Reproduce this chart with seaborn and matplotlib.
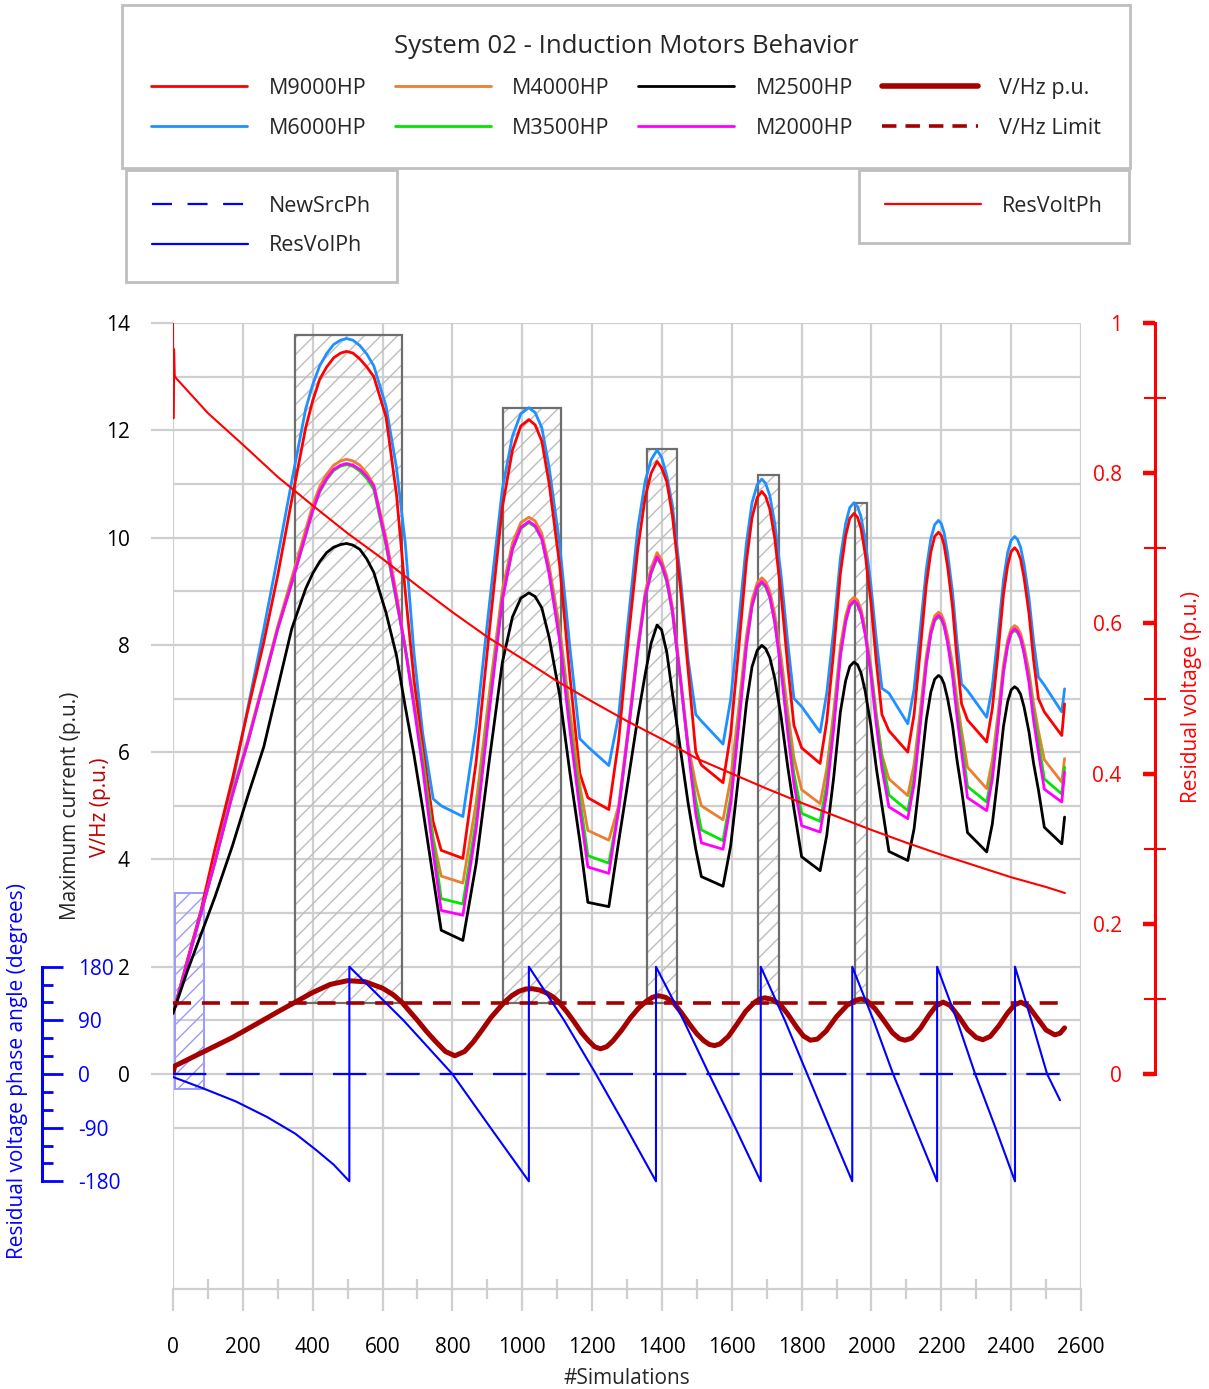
import matplotlib
matplotlib.use("Agg")
import matplotlib.pyplot as plt
from matplotlib.lines import Line2D
import pandas as pd
import seaborn as sns

# ---------------- data ----------------
sim_x = [0, 40, 80, 120, 170, 215, 260, 300, 340, 380, 400, 420, 440, 460, 480, 497, 515, 535, 555, 575,
         610, 640, 665, 690, 715, 745, 768, 830,
         868, 906, 943, 972, 996, 1019, 1037, 1056, 1077, 1107, 1136, 1165, 1188, 1248,
         1276, 1303, 1331, 1352, 1369, 1386, 1399, 1414, 1430, 1453, 1475, 1497, 1513, 1575,
         1597, 1619, 1642, 1658, 1673, 1686, 1697, 1709, 1723, 1741, 1760, 1778, 1800, 1853,
         1872, 1892, 1911, 1926, 1938, 1950, 1960, 1970, 1982, 1998, 2014, 2030, 2050, 2104,
         2122, 2139, 2157, 2170, 2181, 2192, 2200, 2208, 2218, 2232, 2245, 2258, 2275, 2330,
         2346, 2362, 2378, 2390, 2400, 2410, 2418, 2427, 2437, 2451, 2464, 2478, 2495, 2545, 2553]

m6000 = [1.13, 2.05, 3.0, 3.95, 5.4, 6.85, 8.3, 9.65, 11.05, 12.4, 12.85, 13.2, 13.43, 13.6, 13.68, 13.71, 13.68, 13.58, 13.42, 13.2,
         12.45, 11.3, 9.9, 7.85, 6.35, 5.13, 5.0, 4.8,
         6.48, 8.76, 10.9, 11.89, 12.31, 12.42, 12.33, 12.05, 11.31, 9.89, 7.98, 6.25, 6.1, 5.75,
         6.68, 8.43, 10.18, 11.05, 11.45, 11.63, 11.5, 11.15, 10.6, 9.27, 7.73, 6.7, 6.58, 6.15,
         6.99, 8.37, 9.9, 10.65, 10.99, 11.09, 11.01, 10.78, 10.27, 9.31, 8.06, 7.0, 6.85, 6.37,
         7.1, 8.3, 9.62, 10.26, 10.56, 10.65, 10.58, 10.39, 9.96, 9.14, 8.09, 7.19, 7.1, 6.53,
         7.17, 8.24, 9.41, 9.98, 10.24, 10.32, 10.26, 10.09, 9.71, 8.99, 8.06, 7.27, 7.15, 6.65,
         7.22, 8.17, 9.21, 9.72, 9.95, 10.02, 9.97, 9.82, 9.5, 8.88, 8.08, 7.4, 7.25, 6.75, 7.18]

m9000 = [1.13, 2.1, 3.05, 4.19, 5.5, 6.8, 8.05, 9.3, 10.7, 12.05, 12.55, 12.95, 13.18, 13.35, 13.44, 13.47, 13.44, 13.33, 13.18, 13.0,
         12.25, 10.8, 9.0, 7.35, 6.1, 4.7, 4.17, 4.02,
         5.82, 8.27, 10.56, 11.63, 12.08, 12.2, 12.1, 11.8, 11.01, 9.49, 7.45, 5.6, 5.15, 4.93,
         6.21, 8.07, 9.79, 10.75, 11.2, 11.42, 11.3, 11.04, 10.41, 9.06, 7.53, 6.0, 5.76, 5.43,
         6.35, 7.87, 9.56, 10.37, 10.75, 10.86, 10.77, 10.53, 9.99, 8.96, 7.63, 6.5, 6.08, 5.79,
         6.58, 7.89, 9.33, 10.03, 10.36, 10.45, 10.38, 10.17, 9.7, 8.82, 7.68, 6.7, 6.4, 6.0,
         6.7, 7.85, 9.12, 9.73, 10.02, 10.1, 10.04, 9.86, 9.46, 8.71, 7.73, 6.9, 6.6, 6.19,
         6.81, 7.82, 8.94, 9.48, 9.74, 9.81, 9.75, 9.6, 9.25, 8.59, 7.73, 7.0, 6.75, 6.31, 6.9]

m4000 = [1.13, 2.05, 3.0, 3.95, 5.25, 6.25, 7.35, 8.35, 9.25, 10.15, 10.6, 10.95, 11.18, 11.35, 11.43, 11.46, 11.43, 11.35, 11.2, 10.98,
         10.0, 8.95, 7.95, 6.95, 5.9, 4.4, 3.69, 3.56,
         5.06, 7.11, 9.02, 9.9, 10.28, 10.38, 10.31, 10.08, 9.48, 8.33, 6.78, 5.38, 4.54, 4.36,
         5.0, 6.43, 7.98, 8.98, 9.43, 9.72, 9.58, 9.28, 8.71, 7.43, 6.14, 5.4, 5.0, 4.74,
         5.51, 6.77, 8.17, 8.84, 9.16, 9.25, 9.18, 9.0, 8.58, 7.79, 6.77, 5.9, 5.3, 5.04,
         5.69, 6.77, 7.97, 8.54, 8.81, 8.89, 8.83, 8.67, 8.3, 7.61, 6.71, 5.95, 5.5, 5.19,
         5.77, 6.73, 7.79, 8.3, 8.54, 8.61, 8.57, 8.44, 8.17, 7.65, 6.97, 6.4, 5.72, 5.32,
         5.84, 6.69, 7.63, 8.09, 8.3, 8.36, 8.32, 8.21, 7.97, 7.51, 6.91, 6.4, 5.86, 5.44, 5.88]

m3500 = [1.13, 2.05, 3.0, 3.95, 5.2, 6.2, 7.3, 8.3, 9.15, 10.05, 10.5, 10.85, 11.08, 11.25, 11.33, 11.36, 11.33, 11.24, 11.1, 10.9,
         9.85, 8.8, 7.95, 6.9, 5.85, 4.35, 3.27, 3.17,
         4.73, 6.87, 8.86, 9.78, 10.17, 10.28, 10.2, 9.97, 9.35, 8.17, 6.57, 5.13, 4.07, 3.93,
         4.92, 6.33, 7.88, 8.88, 9.33, 9.62, 9.48, 9.17, 8.6, 7.35, 6.06, 5.1, 4.55, 4.35,
         5.17, 6.51, 8.0, 8.72, 9.05, 9.15, 9.08, 8.88, 8.44, 7.61, 6.52, 5.6, 4.86, 4.71,
         5.41, 6.55, 7.82, 8.43, 8.72, 8.8, 8.74, 8.58, 8.22, 7.54, 6.65, 5.9, 5.2, 4.91,
         5.52, 6.53, 7.65, 8.2, 8.45, 8.52, 8.47, 8.35, 8.06, 7.51, 6.8, 6.2, 5.36, 5.07,
         5.61, 6.51, 7.5, 7.98, 8.21, 8.27, 8.23, 8.11, 7.86, 7.37, 6.74, 6.2, 5.5, 5.22, 5.72]

m2000 = [1.13, 2.05, 3.0, 3.95, 5.2, 6.2, 7.3, 8.3, 9.15, 10.05, 10.5, 10.87, 11.1, 11.27, 11.35, 11.38, 11.35, 11.27, 11.14, 10.96,
         9.9, 8.85, 7.93, 6.85, 5.7, 4.13, 3.05, 2.96,
         4.57, 6.78, 8.83, 9.79, 10.19, 10.3, 10.22, 9.98, 9.33, 8.09, 6.43, 4.92, 3.86, 3.74,
         4.92, 6.35, 7.9, 8.9, 9.35, 9.64, 9.5, 9.2, 8.63, 7.35, 6.06, 4.85, 4.31, 4.19,
         5.04, 6.44, 7.98, 8.73, 9.08, 9.18, 9.1, 8.9, 8.42, 7.54, 6.38, 5.4, 4.63, 4.51,
         5.24, 6.45, 7.79, 8.43, 8.73, 8.82, 8.76, 8.59, 8.2, 7.46, 6.51, 5.7, 4.98, 4.76,
         5.4, 6.47, 7.64, 8.21, 8.47, 8.55, 8.5, 8.36, 8.04, 7.44, 6.66, 6.0, 5.15, 4.91,
         5.49, 6.44, 7.49, 7.99, 8.23, 8.3, 8.25, 8.13, 7.84, 7.3, 6.6, 6.0, 5.31, 5.07, 5.63]

m2500 = [1.13, 1.9, 2.6, 3.3, 4.25, 5.2, 6.1, 7.2, 8.3, 9.05, 9.33, 9.55, 9.72, 9.82, 9.87, 9.89, 9.86, 9.78, 9.6, 9.35,
         8.6, 7.8, 6.85, 5.95, 4.95, 3.66, 2.68, 2.49,
         3.92, 5.86, 7.67, 8.52, 8.87, 8.97, 8.9, 8.69, 8.14, 7.07, 5.64, 4.34, 3.2, 3.12,
         4.33, 5.46, 6.65, 7.45, 8.03, 8.37, 8.28, 7.86, 7.1, 6.05, 5.05, 4.19, 3.68, 3.5,
         4.26, 5.52, 6.91, 7.59, 7.9, 7.99, 7.93, 7.76, 7.38, 6.67, 5.74, 4.95, 4.05, 3.79,
         4.45, 5.54, 6.75, 7.33, 7.6, 7.68, 7.63, 7.48, 7.14, 6.51, 5.7, 5.0, 4.15, 3.98,
         4.57, 5.53, 6.6, 7.12, 7.36, 7.43, 7.39, 7.27, 7.0, 6.5, 5.85, 5.3, 4.5, 4.14,
         4.66, 5.53, 6.48, 6.94, 7.16, 7.22, 7.18, 7.08, 6.84, 6.38, 5.8, 5.3, 4.6, 4.29, 4.79]

motor_names = ['M9000HP', 'M6000HP', 'M4000HP', 'M3500HP', 'M2500HP', 'M2000HP']
motor_colors = ['#FF0000', '#1E90FF', '#ED7D31', '#00E600', '#000000', '#FF00FF']

vhz_x = [0, 5, 86, 170, 249, 300, 350, 400, 450, 500, 550, 600, 630, 655, 680, 700, 725, 750, 780, 807,
         835, 860, 885, 910, 930, 949, 970, 990, 1010, 1029, 1050, 1070, 1090, 1105, 1130, 1150, 1170,
         1190, 1207, 1224, 1242, 1260, 1285, 1310, 1335, 1356, 1373, 1390, 1410, 1432, 1455, 1480,
         1500, 1520, 1536, 1551, 1566, 1590, 1615, 1640, 1664, 1680, 1695, 1715, 1738, 1760, 1785,
         1805, 1825, 1845, 1870, 1900, 1930, 1953, 1970, 1986, 2010, 2035, 2060, 2080, 2096, 2115,
         2140, 2165, 2185, 2205, 2225, 2250, 2275, 2300, 2319, 2340, 2365, 2390, 2410, 2428, 2450,
         2475, 2500, 2525, 2540, 2553]
vhz_y = [0.02, 0.15, 0.41, 0.68, 0.97, 1.16, 1.34, 1.52, 1.67, 1.74, 1.72, 1.6, 1.48, 1.34, 1.15, 1.0, 0.8, 0.62, 0.42, 0.34,
         0.42, 0.6, 0.82, 1.05, 1.2, 1.34, 1.46, 1.54, 1.585, 1.59, 1.565, 1.51, 1.43, 1.34, 1.14, 0.96, 0.77,
         0.62, 0.51, 0.47, 0.51, 0.62, 0.82, 1.05, 1.24, 1.36, 1.43, 1.46, 1.43, 1.34, 1.15, 0.92,
         0.75, 0.62, 0.55, 0.53, 0.56, 0.7, 0.93, 1.17, 1.33, 1.4, 1.42, 1.39, 1.3, 1.12, 0.88,
         0.71, 0.63, 0.65, 0.8, 1.07, 1.28, 1.37, 1.40, 1.37, 1.22, 1.0, 0.77, 0.66, 0.63, 0.67,
         0.85, 1.1, 1.27, 1.34, 1.28, 1.07, 0.83, 0.68, 0.64, 0.7, 0.9, 1.14, 1.29, 1.34, 1.26,
         1.04, 0.82, 0.73, 0.76, 0.86]

vhz_limit = 1.33
limit_x = [0, 2553]

rect_x0 = [350, 946, 1356, 1674, 1953]
rect_x1 = [655, 1111, 1442, 1736, 1986]
rect_top = [13.77, 12.41, 11.65, 11.16, 10.65]

blue_rect_x = [5, 88]
blue_rect_y = [-0.28, 3.37]

rv_x = [0, 1, 3, 5, 8, 100, 200, 300, 400, 500, 600, 700, 800, 900, 1000, 1100, 1200, 1300, 1400,
        1500, 1600, 1700, 1800, 1900, 2000, 2100, 2200, 2300, 2400, 2500, 2554]
rv_y = [1.0, 0.873, 0.965, 0.93, 0.927, 0.88, 0.838, 0.795, 0.757, 0.72, 0.686, 0.65, 0.615, 0.582, 0.553,
        0.523, 0.496, 0.47, 0.446, 0.42, 0.40, 0.38, 0.361, 0.343, 0.325, 0.308, 0.292, 0.277, 0.262, 0.249, 0.241]

ph_x = [0, 86, 180, 269, 350, 411, 460, 505, 505, 660, 800, 909, 1019, 1019, 1120, 1211, 1298, 1383,
        1383, 1462, 1535, 1610, 1683, 1683, 1752, 1816, 1880, 1945, 1945, 2006, 2062, 2125, 2188,
        2188, 2245, 2297, 2355, 2411, 2411, 2458, 2503, 2540]
ph_y = [-5, -24, -46, -72, -100, -128, -152, -180, 180, 90, 0, -90, -180, 180, 90, 0, -90, -180,
        180, 90, 0, -90, -180, 180, 90, 0, -90, -180, 180, 90, 0, -90, -180,
        180, 90, 0, -90, -180, 180, 90, 0, -44]
newsrc_x = [0, 2553]
newsrc_y = [0, 0]

x_ticks = list(range(0, 2601, 200))
cur_ticks = [0, 2, 4, 6, 8, 10, 12, 14]
rv_ticks = [0, 0.2, 0.4, 0.6, 0.8, 1.0]
rv_labels = ['0', '0.2', '0.4', '0.6', '0.8', '1']
ph_ticks = [-180, -90, 0, 90, 180]

# ---------------- style ----------------
sns.set_theme(style="white")
plt.rcParams['font.family'] = ['Open Sans', 'DejaVu Sans']
plt.rcParams['hatch.linewidth'] = 1.0
plt.rcParams['axes.unicode_minus'] = False
GRID = '#CFCFCF'
FS = 15

W, H = 1209, 1389
L, R, T, B = 173, 1081, 323, 1288.6
fig = plt.figure(figsize=(W / 100, H / 100), dpi=100)
ax = fig.add_axes([L / W, 1 - B / H, (R - L) / W, (B - T) / H])
ax2 = ax.twinx()
ax3 = ax.twinx()

# hatched windows where V/Hz exceeds limit
heights = [t - vhz_limit for t in rect_top]
widths = [b - a for a, b in zip(rect_x0, rect_x1)]
ax.bar(rect_x0, heights, width=widths, bottom=vhz_limit, align='edge', fill=False,
       hatch='//', edgecolor='#BDBDBD', linewidth=0, zorder=1)
ax.bar(rect_x0, heights, width=widths, bottom=vhz_limit, align='edge', fill=False,
       edgecolor='#6E6E6E', linewidth=1.6, zorder=1)
ax.bar([blue_rect_x[0]], [blue_rect_y[1] - blue_rect_y[0]], width=[blue_rect_x[1] - blue_rect_x[0]],
       bottom=blue_rect_y[0], align='edge', fill=False, hatch='//', edgecolor='#9A9AFF', linewidth=1.4, zorder=1)

# motor currents
series = {'M9000HP': m9000, 'M6000HP': m6000, 'M4000HP': m4000,
          'M3500HP': m3500, 'M2500HP': m2500, 'M2000HP': m2000}
cmap = dict(zip(motor_names, motor_colors))
for name in ['M6000HP', 'M9000HP', 'M4000HP', 'M3500HP', 'M2000HP', 'M2500HP']:
    df = pd.DataFrame({'x': sim_x, 'y': series[name]})
    sns.lineplot(data=df, x='x', y='y', color=cmap[name], linewidth=2.0, ax=ax,
                 estimator=None, sort=False, zorder=3)

# V/Hz and limit
sns.lineplot(x=vhz_x, y=vhz_y, color='#A50000', linewidth=3.6, ax=ax, estimator=None, sort=False, zorder=4)
sns.lineplot(x=limit_x, y=[vhz_limit, vhz_limit], color='#A50000', linewidth=2.6,
             linestyle=(0, (5, 3)), ax=ax, estimator=None, sort=False, zorder=4)

# residual voltage
sns.lineplot(x=rv_x, y=rv_y, color='#FF0000', linewidth=1.5, ax=ax2, estimator=None, sort=False)

# phase angles
sns.lineplot(x=ph_x, y=ph_y, color='#0000FF', linewidth=1.5, ax=ax3, estimator=None, sort=False)
sns.lineplot(x=newsrc_x, y=newsrc_y, color='#0000FF', linewidth=1.6, linestyle=(0, (15, 9)),
             ax=ax3, estimator=None, sort=False)

# ---------------- main axis ----------------
ax.set_xlim(0, 2600)
ax.set_ylim(-4, 14)
ax.set_xticks(x_ticks)
ax.set_xticks(list(range(100, 2600, 200)), minor=True)
ax.set_yticks(cur_ticks)
ax.set_yticks([-1, 1, 3, 5, 7, 9, 11, 13], minor=True)
ax.grid(True, which='both', axis='y', color=GRID, linewidth=1.6)
ax.grid(True, which='major', axis='x', color=GRID, linewidth=1.6)
ax.set_axisbelow(True)
for s in ['top', 'right', 'left']:
    ax.spines[s].set_visible(False)
ax.spines['bottom'].set_color(GRID)
ax.spines['bottom'].set_linewidth(1.6)
ax.tick_params(axis='x', which='major', direction='out', length=16, width=1.6, color=GRID,
               pad=19, labelsize=FS, labelcolor='#000000', bottom=True)
ax.tick_params(axis='x', which='minor', direction='inout', length=15, width=1.6, color=GRID, bottom=True)
ax.tick_params(axis='y', which='major', direction='out', length=16, width=1.6, color=GRID,
               pad=15, labelsize=FS, labelcolor='#000000', left=True)
ax.tick_params(axis='y', which='minor', length=0)
ax.set_xlabel('')
ax.set_ylabel('')
ax.text(0.5, -0.0935, '#Simulations', transform=ax.transAxes, ha='center', va='center', fontsize=FS)
ax.text(-0.1134, 0.5, 'Maximum current (p.u.)', transform=ax.transAxes, rotation=90,
        ha='center', va='center', fontsize=FS)
ax.text(-0.080, 0.498, 'V/Hz (p.u.)', transform=ax.transAxes, rotation=90,
        ha='center', va='center', fontsize=FS, color='#C00000')

# ---------------- residual voltage axis ----------------
ax2.set_ylim(-4 / 14, 1.0)
for s in ax2.spines.values():
    s.set_visible(False)
ax2.spines['left'].set_visible(True)
ax2.spines['left'].set_position(('axes', (1155 - L) / (R - L)))
ax2.spines['left'].set_bounds(0, 1)
ax2.spines['left'].set_color('#FF0000')
ax2.spines['left'].set_linewidth(2.2)
ax2.yaxis.set_ticks_position('left')
ax2.set_yticks(rv_ticks)
ax2.set_yticklabels(rv_labels)
ax2.set_yticks([0.1, 0.3, 0.5, 0.7, 0.9], minor=True)
ax2.tick_params(axis='y', which='major', direction='out', length=9, width=3.2, color='#FF0000',
                pad=15, labelsize=FS, labelcolor='#FF0000')
ax2.tick_params(axis='y', which='minor', direction='inout', length=16, width=1.5, color='#FF0000')
ax2.set_ylabel('')
ax2.text((1192 - L) / (R - L), 0.6127, 'Residual voltage (p.u.)', transform=ax2.transAxes, rotation=90,
         ha='center', va='center', fontsize=FS, color='#FF0000')
ax2.grid(False)

# ---------------- phase axis ----------------
ax3.set_ylim(-360, 1260)
for s in ax3.spines.values():
    s.set_visible(False)
ax3.spines['right'].set_visible(True)
ax3.spines['right'].set_position(('axes', (42 - L) / (R - L)))
ax3.spines['right'].set_bounds(-180, 180)
ax3.spines['right'].set_color('#0000FF')
ax3.spines['right'].set_linewidth(2.2)
ax3.yaxis.set_ticks_position('right')
ax3.set_yticks(ph_ticks)
ax3.set_yticks([-150, -120, -60, -30, 30, 60, 120, 150], minor=True)
ax3.tick_params(axis='y', which='major', direction='out', length=15, width=2, color='#0000FF',
                pad=11, labelsize=FS, labelcolor='#0000FF')
ax3.tick_params(axis='y', which='minor', direction='out', length=8, width=2, color='#0000FF')
ax3.set_ylabel('')
ax3.text((18 - L) / (R - L), 0.2254, 'Residual voltage phase angle (degrees)', transform=ax3.transAxes,
         rotation=90, ha='center', va='center', fontsize=FS, color='#0000FF')
ax3.grid(False)

# ---------------- legends ----------------
LFS = 15.5
h1 = [Line2D([0], [0], color=cmap['M9000HP'], lw=2),
      Line2D([0], [0], color=cmap['M6000HP'], lw=2),
      Line2D([0], [0], color=cmap['M4000HP'], lw=2),
      Line2D([0], [0], color=cmap['M3500HP'], lw=2),
      Line2D([0], [0], color=cmap['M2500HP'], lw=2),
      Line2D([0], [0], color=cmap['M2000HP'], lw=2),
      Line2D([0], [0], color='#A50000', lw=4),
      Line2D([0], [0], color='#A50000', lw=2.6, linestyle=(0, (4, 2.5)))]
l1 = ['M9000HP', 'M6000HP', 'M4000HP', 'M3500HP', 'M2500HP', 'M2000HP', 'V/Hz p.u.', 'V/Hz Limit']
leg_kw = dict(fontsize=LFS, handlelength=4.47, handletextpad=0.98, labelspacing=0.86,
              fancybox=False, edgecolor='#BFBFBF', framealpha=1, borderaxespad=0)
leg1 = fig.legend(handles=h1, labels=l1, loc='upper center', bbox_to_anchor=(626 / W, 1 - 5 / H), ncol=4,
                  title='System 02 - Induction Motors Behavior', title_fontsize=18.5,
                  columnspacing=1.33, borderpad=1.37, **leg_kw)
leg1.get_frame().set_linewidth(2.0)

h2 = [Line2D([0], [0], color='#0000FF', lw=1.6, linestyle=(0, (9, 7))),
      Line2D([0], [0], color='#0000FF', lw=1.6)]
leg2 = fig.legend(handles=h2, labels=['NewSrcPh', 'ResVolPh'], loc='upper left',
                  bbox_to_anchor=(126 / W, 1 - 170 / H), borderpad=1.2, **leg_kw)
leg2.get_frame().set_linewidth(2.0)

h3 = [Line2D([0], [0], color='#FF0000', lw=1.6)]
leg3 = fig.legend(handles=h3, labels=['ResVoltPh'], loc='upper right',
                  bbox_to_anchor=(1129 / W, 1 - 170 / H), borderpad=1.2, **leg_kw)
leg3.get_frame().set_linewidth(2.0)

fig.savefig('out.png', dpi=100)
